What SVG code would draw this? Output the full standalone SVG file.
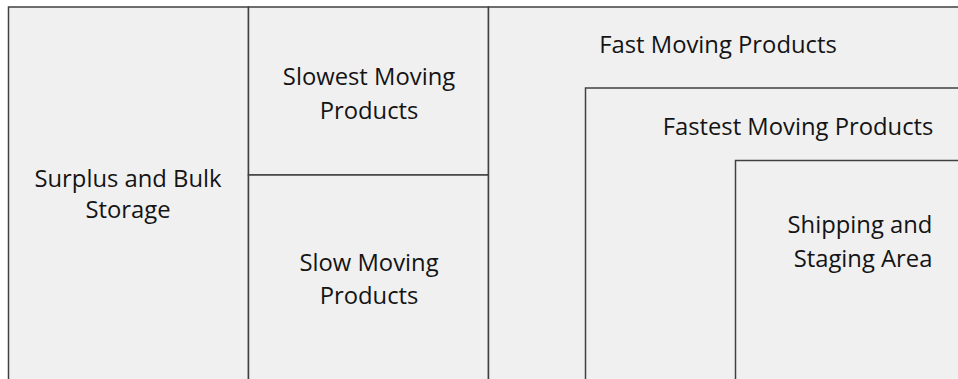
<svg xmlns="http://www.w3.org/2000/svg" width="958" height="379" viewBox="0 0 958 379">
  <style>
    .zone { fill: #f0f0f0; stroke: #404040; stroke-width: 1.5; }
    .label { font-family: "Open Sans", "Noto Sans", "Liberation Sans", sans-serif; font-size: 23.8px; fill: #141414; text-anchor: middle; }
  </style>
  <rect x="0" y="0" width="958" height="379" fill="#ffffff"/>

  <!-- Left column: bulk storage -->
  <g id="surplus-bulk-storage">
    <rect class="zone" x="8.5" y="7" width="240" height="400"/>
    <text class="label" x="128" y="187">Surplus and Bulk</text>
    <text class="label" x="128" y="218">Storage</text>
  </g>

  <!-- Middle column, upper half -->
  <g id="slowest-moving">
    <rect class="zone" x="248.5" y="7" width="240" height="168"/>
    <text class="label" x="369" y="85">Slowest Moving</text>
    <text class="label" x="369" y="119">Products</text>
  </g>

  <!-- Middle column, lower half -->
  <g id="slow-moving">
    <rect class="zone" x="248.5" y="175" width="240" height="300"/>
    <text class="label" x="369" y="271">Slow Moving</text>
    <text class="label" x="369" y="304">Products</text>
  </g>

  <!-- Right block, nested zones -->
  <g id="fast-moving">
    <rect class="zone" x="488.5" y="7" width="600" height="400"/>
    <text class="label" x="718" y="53">Fast Moving Products</text>
  </g>

  <g id="fastest-moving">
    <rect class="zone" x="585.5" y="88" width="500" height="400"/>
    <text class="label" x="798" y="135">Fastest Moving Products</text>
  </g>

  <g id="shipping-staging">
    <rect class="zone" x="735.5" y="160.5" width="400" height="300"/>
    <text class="label" x="860" y="233">Shipping and</text>
    <text class="label" x="863" y="267">Staging Area</text>
  </g>
</svg>
